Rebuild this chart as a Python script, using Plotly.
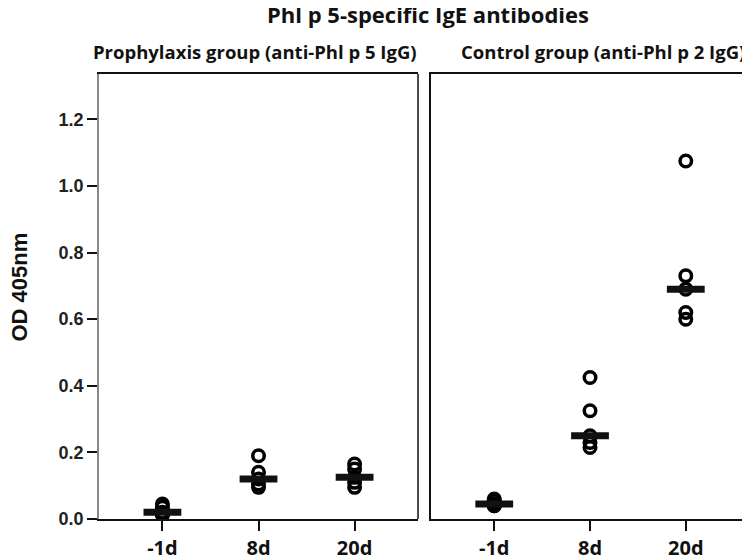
import numpy as np
import plotly.graph_objects as go
from plotly.subplots import make_subplots

categories = ["-1d", "8d", "20d"]
y_ticks = [0.0, 0.2, 0.4, 0.6, 0.8, 1.0, 1.2]

# Prophylaxis group (anti-Phl p 5 IgG)
proph_m1 = [0.045, 0.035, 0.02, 0.015, 0.012]
proph_8 = [0.19, 0.14, 0.12, 0.105, 0.095]
proph_20 = [0.165, 0.15, 0.125, 0.11, 0.095]

# Control group (anti-Phl p 2 IgG)
ctrl_m1 = [0.06, 0.055, 0.045, 0.04, 0.04]
ctrl_8 = [0.425, 0.325, 0.25, 0.23, 0.215]
ctrl_20 = [1.075, 0.73, 0.69, 0.62, 0.60]

panels = [
    ("Prophylaxis group (anti-Phl p 5 IgG)", [proph_m1, proph_8, proph_20]),
    ("Control group (anti-Phl p 2 IgG)", [ctrl_m1, ctrl_8, ctrl_20]),
]

COND = "Open Sans, Noto Sans, sans-serif"
ARIAL = "Liberation Sans, Arial, sans-serif"

fig = make_subplots(rows=1, cols=2, shared_yaxes=False, horizontal_spacing=0.02)

for col, (name, groups) in enumerate(panels, start=1):
    xs, ys = [], []
    for cat, vals in zip(categories, groups):
        xs += [cat] * len(vals)
        ys += vals
    fig.add_trace(go.Scatter(
        x=xs, y=ys, mode="markers",
        marker=dict(symbol="circle-open", size=11.5, color="#000",
                    line=dict(width=3.5, color="#000")),
        showlegend=False, hoverinfo="skip"), row=1, col=col)
    med = [float(np.median(v)) for v in groups]
    fig.add_trace(go.Scatter(
        x=categories, y=med, mode="markers",
        marker=dict(symbol="line-ew", size=27, color="#111",
                    line=dict(width=7, color="#111")),
        showlegend=False, hoverinfo="skip"), row=1, col=col)

dom_left = [0.0, 0.4908]
dom_right = [0.5108, 1.0]
xcommon = dict(type="category", categoryorder="array", categoryarray=categories,
               range=[-0.66, 2.66], showline=True, linecolor="#111", linewidth=1.5,
               mirror=True, ticks="outside", ticklen=10, tickwidth=2, tickcolor="#111",
               showgrid=False, zeroline=False,
               tickfont=dict(family=COND, size=20, color="#111", weight="bold"))
fig.update_layout(
    xaxis=dict(domain=dom_left, **xcommon),
    xaxis2=dict(domain=dom_right, **xcommon),
    yaxis=dict(range=[0, 1.336], tickvals=y_ticks, ticktext=[f"{v:.1f}" for v in y_ticks],
               showline=True, linecolor="#888", linewidth=1.5, ticks="outside",
               ticklen=10, tickwidth=2, tickcolor="#111", showgrid=False, zeroline=False,
               tickfont=dict(family=ARIAL, size=18, color="#222", weight="bold")),
    yaxis2=dict(range=[0, 1.336], showticklabels=False, ticks="", showline=True,
                linecolor="#111", linewidth=1.5, mirror=True, showgrid=False, zeroline=False),
    width=742, height=552,
    margin=dict(l=91, r=1, t=66, b=41, autoexpand=False),
    plot_bgcolor="white", paper_bgcolor="white",
    title=dict(text="<b>Phl p 5-specific IgE antibodies</b>", x=0.566, xanchor="center",
               y=1, yanchor="top", pad=dict(t=0),
               font=dict(family=COND, size=22, color="#111")),
)

# right edge of left panel (black) since y-axis line is grey
fig.add_shape(type="line", xref="x domain", yref="y domain", x0=1, x1=1, y0=0, y1=1,
              line=dict(color="#111", width=1.5))

sub_x = [0.24, 0.776]
for (name, _), sx in zip(panels, sub_x):
    fig.add_annotation(text=f"<b>{name}</b>", xref="paper", yref="paper",
                       x=sx, xanchor="center", y=1 + 22 / 445, yanchor="middle",
                       showarrow=False, font=dict(family=COND, size=18.5, color="#111"))

fig.add_annotation(text="<b>OD 405nm</b>", xref="paper", yref="paper", x=0, y=0.52,
                   xanchor="center", yanchor="middle", xshift=-79, textangle=-90,
                   showarrow=False, font=dict(family=ARIAL, size=22, color="#111"))

fig.write_html("out.html")
